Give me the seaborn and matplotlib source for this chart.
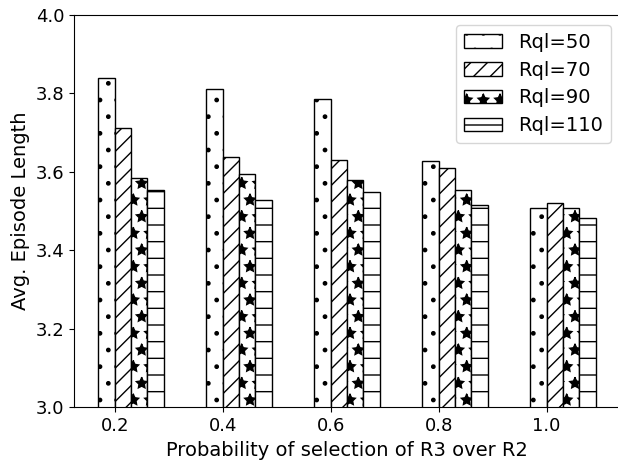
import matplotlib
matplotlib.use("Agg")
import matplotlib.pyplot as plt
import pandas as pd
import seaborn as sns

probabilities = ["0.2", "0.4", "0.6", "0.8", "1.0"]
rql_levels = ["Rql=50", "Rql=70", "Rql=90", "Rql=110"]
rql_50 = [3.838, 3.812, 3.785, 3.628, 3.508]
rql_70 = [3.711, 3.638, 3.630, 3.610, 3.520]
rql_90 = [3.585, 3.594, 3.579, 3.553, 3.507]
rql_110 = [3.553, 3.527, 3.549, 3.515, 3.481]
hatches = [".", "//", "*", "-"]

rows = []
for level, values in zip(rql_levels, [rql_50, rql_70, rql_90, rql_110]):
    for prob, val in zip(probabilities, values):
        rows.append({"prob": prob, "length": val, "rql": level})
frame = pd.DataFrame(rows)

plt.rcParams["hatch.linewidth"] = 1.0
fig = plt.figure(figsize=(6.18, 4.62), dpi=100)
ax = fig.add_axes([0.1202, 0.1184, 0.8837, 0.8498])

group_width = 0.607
sns.barplot(
    data=frame, x="prob", y="length", hue="rql",
    order=probabilities, hue_order=rql_levels,
    width=group_width, legend=False, ax=ax,
)

for container, hatch in zip(ax.containers, hatches):
    for bar in container:
        bar.set_facecolor("white")
        bar.set_edgecolor("black")
        bar.set_linewidth(1.0)
        bar.set_hatch(hatch)

bar_w = group_width / len(rql_levels)
ax.set_xticks([i - bar_w for i in range(len(probabilities))])
ax.set_xticklabels(probabilities)
ax.set_xlim(-0.526, 4.531)
ax.set_ylim(3.0, 4.0)
ax.set_yticks([3.0, 3.2, 3.4, 3.6, 3.8, 4.0])
ax.tick_params(labelsize=13)
ax.set_xlabel("Probability of selection of R3 over R2", fontsize=14)
ax.set_ylabel("Avg. Episode Length", fontsize=14)
ax.legend(ax.containers, rql_levels, loc="upper right", fontsize=14,
          labelspacing=0.45, handletextpad=0.8,
          bbox_to_anchor=(1.0, 0.998))

fig.savefig("out.png", dpi=100)
